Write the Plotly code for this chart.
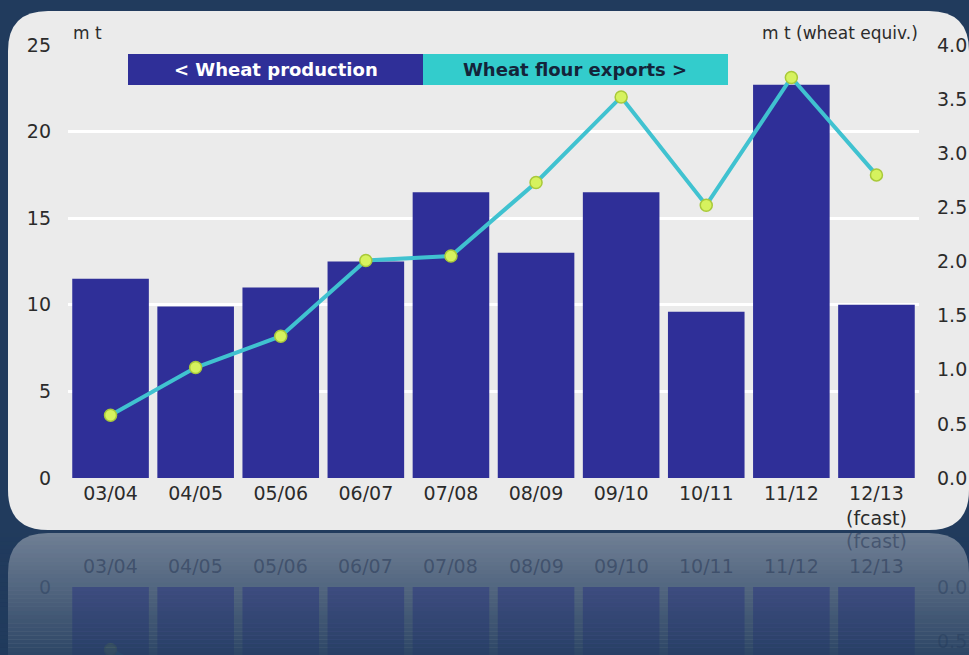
import plotly.graph_objects as go

# ---- data ----
seasons = ["03/04", "04/05", "05/06", "06/07", "07/08", "08/09", "09/10", "10/11", "11/12", "12/13"]
season_labels = ["03/04", "04/05", "05/06", "06/07", "07/08", "08/09", "09/10", "10/11", "11/12", "12/13<br>(fcast)"]
reflect_labels = ["03/04", "04/05", "05/06", "06/07", "07/08", "08/09", "09/10", "10/11", "11/12", "(fcast)<br>12/13"]
wheat_production = [11.5, 9.9, 11.0, 12.5, 16.5, 13.0, 16.5, 9.6, 22.7, 10.0]   # m t (left axis)
flour_exports = [0.58, 1.02, 1.31, 2.01, 2.05, 2.73, 3.52, 2.52, 3.70, 2.80]      # m t wheat equiv. (right axis)
left_ticks = [0, 5, 10, 15, 20, 25]
right_ticks = [0.0, 0.5, 1.0, 1.5, 2.0, 2.5, 3.0, 3.5, 4.0]

# ---- styling ----
W_FIG, H_FIG = 969, 655
L_M, R_M = 68, 50
PW = W_FIG - L_M - R_M
NAVY_BG = "#213b5d"
PANEL = "#ebebeb"
BAR = "#2f2f98"
LINE = "#40c2d0"
MARK = "#d6f25e"
MARK_EDGE = "#a9c93a"
CYAN_BOX = "#33cccc"
TXT = "#2b2b2b"
FONT = "DejaVu Sans, Arial, sans-serif"


def px(x):
    return (x - L_M) / PW


def py(y):
    return (H_FIG - y) / H_FIG


def rounded_path(x0, y0, x1, y1, r, top=True, bottom=True):
    pts = []
    if top:
        pts.append(f"M {px(x0 + r)},{py(y0)}")
        pts.append(f"L {px(x1 - r)},{py(y0)}")
        pts.append(f"Q {px(x1)},{py(y0)} {px(x1)},{py(y0 + r)}")
    else:
        pts.append(f"M {px(x0)},{py(y0)}")
        pts.append(f"L {px(x1)},{py(y0)}")
    if bottom:
        pts.append(f"L {px(x1)},{py(y1 - r)}")
        pts.append(f"Q {px(x1)},{py(y1)} {px(x1 - r)},{py(y1)}")
        pts.append(f"L {px(x0 + r)},{py(y1)}")
        pts.append(f"Q {px(x0)},{py(y1)} {px(x0)},{py(y1 - r)}")
    else:
        pts.append(f"L {px(x1)},{py(y1)}")
        pts.append(f"L {px(x0)},{py(y1)}")
    if top:
        pts.append(f"L {px(x0)},{py(y0 + r)}")
        pts.append(f"Q {px(x0)},{py(y0)} {px(x0 + r)},{py(y0)}")
    pts.append("Z")
    return " ".join(pts)


fig = go.Figure()

# main chart
fig.add_trace(go.Bar(x=seasons, y=wheat_production, marker=dict(color=BAR, line=dict(width=0)),
                     xaxis="x", yaxis="y", name="Wheat production", showlegend=False))
fig.add_trace(go.Scatter(x=seasons, y=flour_exports, mode="lines+markers",
                         line=dict(color=LINE, width=4),
                         marker=dict(size=12, color=MARK, line=dict(color=MARK_EDGE, width=1.5)),
                         xaxis="x", yaxis="y2", name="Wheat flour exports", showlegend=False))

# reflection
fig.add_trace(go.Bar(x=seasons, y=wheat_production, marker=dict(color=BAR, line=dict(width=0)),
                     opacity=0.5, xaxis="x2", yaxis="y3", showlegend=False, hoverinfo="skip"))
fig.add_trace(go.Scatter(x=seasons, y=flour_exports, mode="lines+markers",
                         line=dict(color=LINE, width=4),
                         marker=dict(size=12, color=MARK, line=dict(color=MARK_EDGE, width=1.5)),
                         opacity=0.45, xaxis="x2", yaxis="y4", showlegend=False, hoverinfo="skip"))

SCALE = (478 - 45) / 25.0  # px per unit on left axis
refl_range = (H_FIG - 587) / SCALE

shapes = []
# main panel
shapes.append(dict(type="path", xref="paper", yref="paper", layer="below",
                   path=rounded_path(8, 11, 969, 530, 40), fillcolor=PANEL, line=dict(width=0)))
# reflected panel
shapes.append(dict(type="path", xref="paper", yref="paper", layer="below",
                   path=rounded_path(8, 533, 969, 660, 40, top=True, bottom=False),
                   fillcolor="rgba(235,235,235,0.42)", line=dict(width=0)))
# fade of the reflection (decorative gradient bands)
n_bands = 30
band_top, band_bot = 533, 656
bh = (band_bot - band_top) / n_bands
for i in range(n_bands):
    shapes.append(dict(type="rect", xref="paper", yref="paper", layer="above",
                       x0=px(0), x1=px(W_FIG), y0=py(band_top + (i + 1) * bh), y1=py(band_top + i * bh),
                       fillcolor=NAVY_BG, opacity=min(0.85, 0.08 + 0.8 * i / n_bands), line=dict(width=0)))
# legend boxes
shapes.append(dict(type="rect", xref="paper", yref="paper", layer="above",
                   x0=px(128), x1=px(423), y0=py(85), y1=py(54), fillcolor=BAR, line=dict(width=0)))
shapes.append(dict(type="rect", xref="paper", yref="paper", layer="above",
                   x0=px(423), x1=px(728), y0=py(85), y1=py(54), fillcolor=CYAN_BOX, line=dict(width=0)))

annotations = [
    dict(text="< Wheat production", x=px(276), y=py(70), xref="paper", yref="paper",
         showarrow=False, font=dict(family=FONT, size=18, color="white", weight="bold"),
         xanchor="center", yanchor="middle"),
    dict(text="Wheat flour exports >", x=px(575), y=py(70), xref="paper", yref="paper",
         showarrow=False, font=dict(family=FONT, size=18, color="#14243a", weight="bold"),
         xanchor="center", yanchor="middle"),
    dict(text="m t", x=px(71), y=py(33), xref="paper", yref="paper", showarrow=False,
         font=dict(family=FONT, size=17, color=TXT), xanchor="left", yanchor="middle"),
    dict(text="m t (wheat equiv.)", x=px(920), y=py(33), xref="paper", yref="paper", showarrow=False,
         font=dict(family=FONT, size=17, color=TXT), xanchor="right", yanchor="middle"),
]
for s, lab in zip(seasons, reflect_labels):
    annotations.append(dict(text=lab, x=s, xref="x2", y=py(579), yref="paper", showarrow=False,
                            font=dict(family=FONT, size=19, color="rgba(40,55,85,0.55)"),
                            xanchor="center", yanchor="bottom"))

tick_font = dict(family=FONT, size=19, color=TXT)
faint_font = dict(family=FONT, size=19, color="rgba(40,55,85,0.45)")

fig.update_layout(
    width=W_FIG, height=H_FIG,
    template="none",
    paper_bgcolor=NAVY_BG,
    plot_bgcolor="rgba(0,0,0,0)",
    margin=dict(l=L_M, r=R_M, t=0, b=0, pad=0),
    bargap=0.1,
    showlegend=False,
    shapes=shapes,
    annotations=annotations,
    xaxis=dict(domain=[0, 1], anchor="y", type="category", range=[-0.5, 9.5],
               tickmode="array", tickvals=seasons, ticktext=season_labels,
               tickfont=tick_font, showgrid=False, zeroline=False, showline=False,
               ticks="", ticklabelstandoff=2, automargin=False),
    yaxis=dict(domain=[py(478), py(45)], anchor="x", range=[0, 25], tickvals=left_ticks,
               tickfont=tick_font, showgrid=True, gridcolor="white", gridwidth=3,
               zeroline=True, zerolinecolor=PANEL, zerolinewidth=3, showline=False,
               ticks="", ticklabelstandoff=16, automargin=False),
    yaxis2=dict(overlaying="y", side="right", anchor="x", range=[0, 4], tickvals=right_ticks,
                tickformat=".1f", tickfont=tick_font, showgrid=False, zeroline=False,
                showline=False, ticks="", ticklabelstandoff=17, automargin=False),
    xaxis2=dict(domain=[0, 1], anchor="y3", type="category", range=[-0.5, 9.5], matches="x",
                showticklabels=False, showgrid=False, zeroline=False, showline=False, ticks="",
                automargin=False),
    yaxis3=dict(domain=[0, py(587)], anchor="x2", range=[refl_range, 0], tickvals=[0, 5],
                tickfont=faint_font, showgrid=False, zeroline=False, showline=False, ticks="",
                ticklabelstandoff=16, automargin=False),
    yaxis4=dict(overlaying="y3", side="right", anchor="x2", range=[refl_range * 4 / 25, 0],
                tickvals=[0.0, 0.5], tickformat=".1f", tickfont=faint_font, showgrid=False,
                zeroline=False, showline=False, ticks="", ticklabelstandoff=17, automargin=False),
)

fig.write_html("out.html", config={"displayModeBar": False},
               post_script="document.body.style.margin='0px';document.body.style.overflow='hidden';")
